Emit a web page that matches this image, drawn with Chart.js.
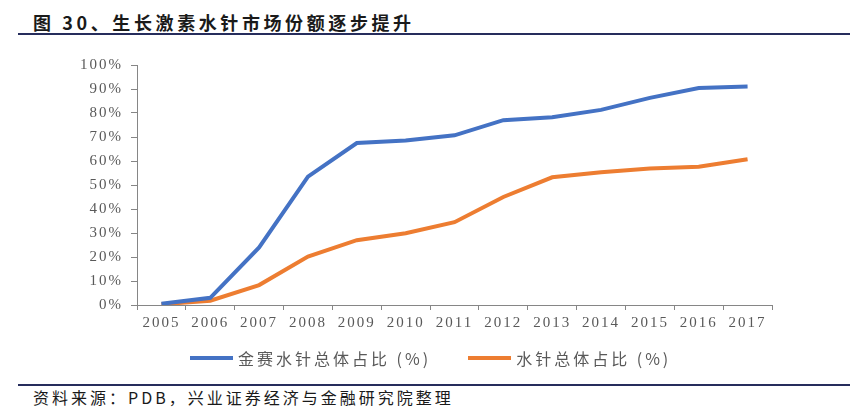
<!DOCTYPE html>
<html>
<head>
<meta charset="utf-8">
<script src="https://cdn.jsdelivr.net/npm/chart.js@4.4.1/dist/chart.umd.min.js"></script>
<style>
  body { margin: 0; background: #fff; width: 868px; height: 418px; position: relative; overflow: hidden; }
  #title { position: absolute; left: 33px; top: 9px; font: bold 18px "Noto Sans CJK SC"; letter-spacing: 3.6px; color: #1a1a1a; white-space: nowrap; }
  .rule { position: absolute; left: 18px; width: 832px; height: 2px; background: #262d5c; }
  #source { position: absolute; left: 33px; top: 385px; font: 16px "Noto Sans CJK SC"; letter-spacing: 3px; color: #1a1a1a; white-space: nowrap; }
  #wrap { position: absolute; left: 0; top: 0; width: 868px; height: 382px; }
  #legend { position: absolute; left: 190px; top: 346px; display: flex; align-items: center; white-space: nowrap; }
  #legend .item { display: flex; align-items: center; margin-right: 37px; }
  #legend .swatch { width: 43px; height: 4px; margin-right: 5px; }
  #legend .txt { font: 16px "Noto Sans CJK SC"; letter-spacing: 3px; color: #595959; }
</style>
</head>
<body>
<div id="title">图 30、生长激素水针市场份额逐步提升</div>
<div class="rule" style="top:33px"></div>
<div id="wrap"><canvas id="growthChart"></canvas></div>
<div id="legend"></div>
<div class="rule" style="top:384px"></div>
<div id="source">资料来源：PDB，兴业证券经济与金融研究院整理</div>

<script>
var years = ["2005", "2006", "2007", "2008", "2009", "2010", "2011", "2012", "2013", "2014", "2015", "2016", "2017"];
var jinsaiShare = [0.5, 3, 24, 53.5, 67.5, 68.5, 70.7, 77, 78.2, 81.3, 86.3, 90.4, 91];
var totalShare = [0.3, 1.8, 8.3, 20.2, 27, 29.9, 34.5, 45, 53.2, 55.3, 56.9, 57.6, 60.7];
var yTicks = [0, 10, 20, 30, 40, 50, 60, 70, 80, 90, 100];

var blue = '#4472c4';
var orange = '#ed7d31';
var grey = '#595959';

// canvas letter spacing (chart.js has no option for it)
var spacing = {
  id: 'spacing',
  beforeUpdate: function (c) { c.ctx.letterSpacing = '2px'; },
  beforeDraw: function (c) { c.ctx.letterSpacing = '2px'; }
};

var chart = new Chart(document.getElementById('growthChart'), {
  type: 'line',
  data: {
    labels: years,
    datasets: [{
      label: '金赛水针总体占比 (%)',
      data: jinsaiShare,
      borderColor: blue,
      backgroundColor: blue,
      borderWidth: 4,
      pointRadius: 0,
      tension: 0
    }, {
      label: '水针总体占比 (%)',
      data: totalShare,
      borderColor: orange,
      backgroundColor: orange,
      borderWidth: 4,
      pointRadius: 0,
      tension: 0
    }]
  },
  options: {
    responsive: true,
    maintainAspectRatio: false,
    animation: false,
    layout: { padding: { top: 65, left: 0, right: 96, bottom: 47 } },
    plugins: {
      tooltip: { enabled: false },
      legend: { display: false }
    },
    scales: {
      x: {
        offset: true,
        afterFit: function (s) { s.height = 30; },
        grid: { offset: true, drawOnChartArea: false, tickLength: 5, color: '#868686' },
        border: { color: '#868686' },
        ticks: { color: grey, padding: 4, maxRotation: 0, font: { family: '"Liberation Serif"', size: 15 } }
      },
      y: {
        min: 0,
        max: 100,
        afterFit: function (s) { s.width = 137; },
        afterBuildTicks: function (s) { s.ticks = yTicks.map(function (v) { return { value: v }; }); },
        grid: { drawOnChartArea: false, tickLength: 6, color: '#868686' },
        border: { color: '#868686' },
        ticks: {
          color: grey,
          padding: 8,
          font: { family: '"Liberation Serif"', size: 15 },
          callback: function (v) { return v + '%'; }
        }
      }
    }
  },
  plugins: [spacing]
});

// legend built from the chart's datasets
var legendEl = document.getElementById('legend');
chart.data.datasets.forEach(function (ds) {
  var item = document.createElement('div');
  item.className = 'item';
  var sw = document.createElement('span');
  sw.className = 'swatch';
  sw.style.background = ds.borderColor;
  var t = document.createElement('span');
  t.className = 'txt';
  t.textContent = ds.label;
  item.appendChild(sw);
  item.appendChild(t);
  legendEl.appendChild(item);
});
</script>
</body>
</html>
